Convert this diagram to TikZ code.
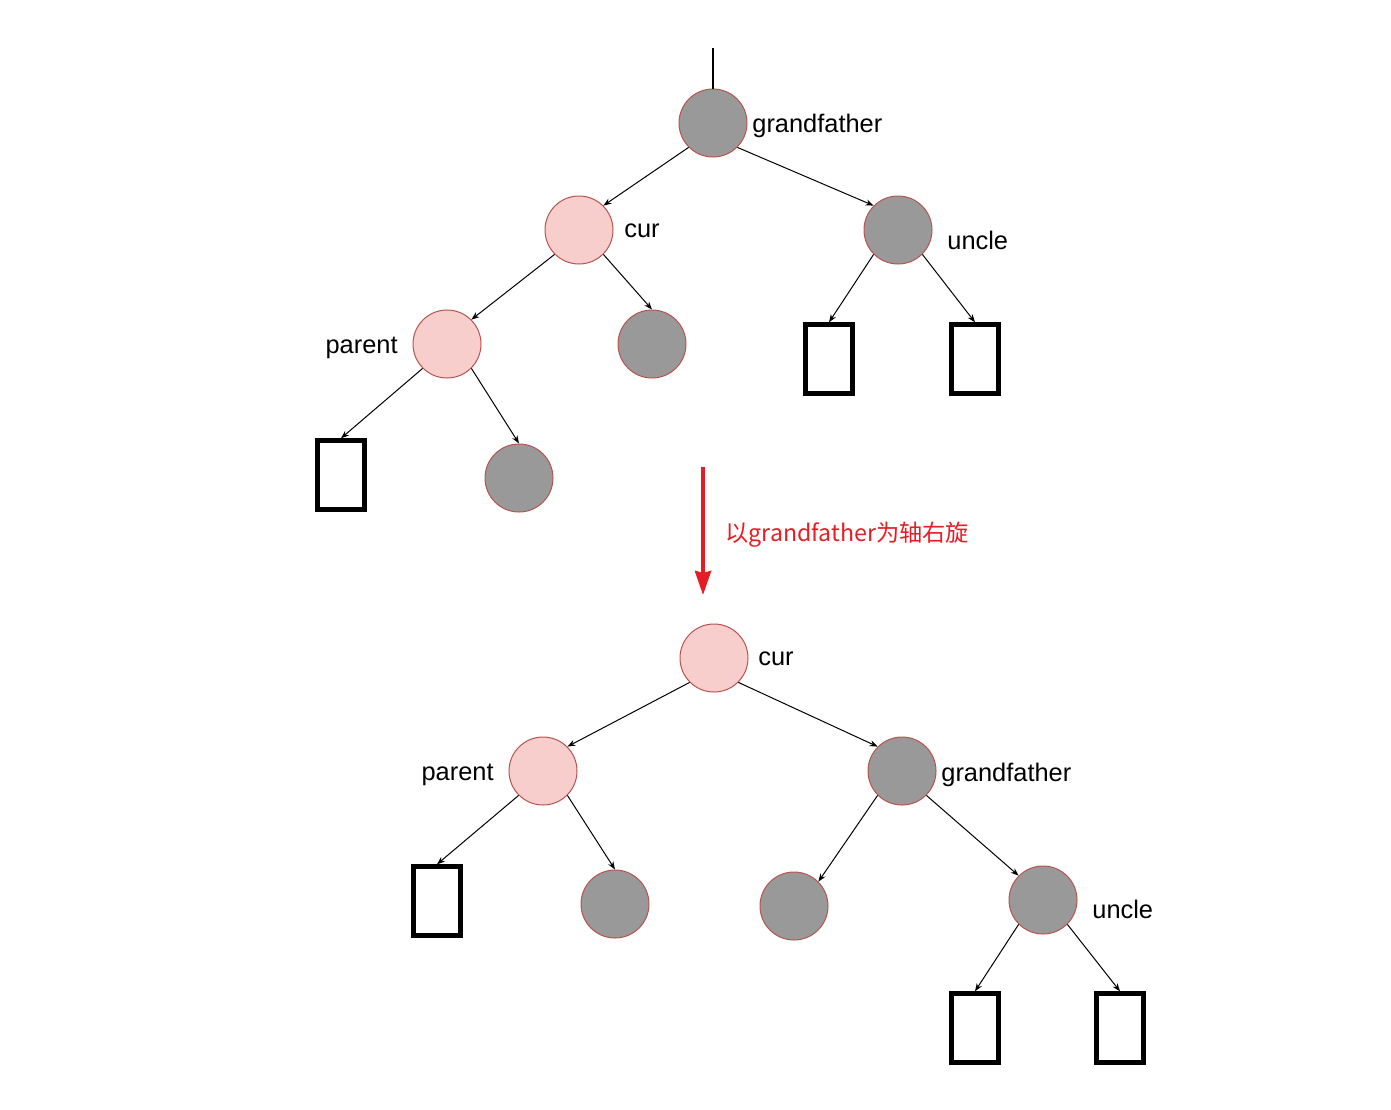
\documentclass[tikz,border=0pt]{standalone}
\usepackage{fontspec}
\setmainfont{Liberation Sans}
\newfontfamily\cjk{Noto Sans CJK SC}
\usetikzlibrary{arrows.meta}
\definecolor{redfill}{HTML}{F8CECC}
\definecolor{redline}{HTML}{B85450}
\definecolor{blkfill}{HTML}{999999}
\definecolor{rotred}{HTML}{E51E25}
\begin{document}
\begin{tikzpicture}[x=0.5pt,y=-0.5pt,>={Stealth[length=4pt,width=3pt]},
  font=\fontsize{12.7}{15}\selectfont,
  rnode/.style={circle,draw=redline,fill=redfill,line width=0.5pt,minimum size=34pt,inner sep=0pt},
  bnode/.style={circle,draw=redline,fill=blkfill,line width=0.5pt,minimum size=34pt,inner sep=0pt},
  nilbox/.style={rectangle,draw=black,line width=2.2pt,minimum width=23.5pt,minimum height=34.5pt,inner sep=0pt},
  tag/.style={inner sep=0pt,anchor=west,yshift=-1.5pt},
  link/.style={->,line width=0.5pt}]
  \useasboundingbox (0,0) rectangle (1391,1109);

  % before the rotation
  \coordinate (root) at (713,48);
  \node[bnode] (gf) at (713,123) {};
  \node[rnode] (cur) at (579,230) {};
  \node[bnode] (unc) at (898,230) {};
  \node[rnode] (par) at (447,344) {};
  \node[bnode] (curR) at (652,344) {};
  \node[nilbox] (parL) at (341,475) {};
  \node[bnode] (parR) at (519,478) {};
  \node[nilbox] (uncL) at (829,359) {};
  \node[nilbox] (uncR) at (975,359) {};
  \node[tag] (gfT) at (752,123) {grandfather};
  \node[tag] (curT) at (624,228) {cur};
  \node[tag] (uncT) at (947,237) {uncle};
  \node[tag,anchor=east] (parT) at (398,345) {parent};

  \draw[line width=0.8pt] (root) -- (gf);
  \draw[link] (gf.south west) -- (cur.north east);
  \draw[link] (gf.south east) -- (unc.north west);
  \draw[link] (cur.south west) -- (par.north east);
  \draw[link] (cur.south east) -- (curR.north);
  \draw[link] (par.south west) -- (parL.north);
  \draw[link] (par.south east) -- (parR.north);
  \draw[link] (unc.south west) -- (uncL.north);
  \draw[link] (unc.south east) -- (uncR.north);

  % rotation step
  \coordinate (rotA) at (703,467);
  \coordinate (rotB) at (703,595);
  \draw[-{Stealth[length=12pt,width=8pt,inset=1pt]},rotred,line width=2pt] (rotA) -- (rotB);
  \node[tag,text=rotred,font=\cjk\fontsize{11.6}{14}\selectfont] (rotT) at (725,532) {以grandfather为轴右旋};

  % after the rotation
  \node[rnode] (cur2) at (714,658) {};
  \node[rnode] (par2) at (543,771) {};
  \node[bnode] (gf2) at (902,771) {};
  \node[nilbox] (par2L) at (437,901) {};
  \node[bnode] (par2R) at (615,904) {};
  \node[bnode] (gf2L) at (794,906) {};
  \node[bnode] (unc2) at (1043,900) {};
  \node[nilbox] (unc2L) at (975,1028) {};
  \node[nilbox] (unc2R) at (1120,1028) {};
  \node[tag] (cur2T) at (758,656) {cur};
  \node[tag,anchor=east] (par2T) at (494,772) {parent};
  \node[tag] (gf2T) at (941,772) {grandfather};
  \node[tag] (unc2T) at (1092,906) {uncle};

  \draw[link] (cur2.south west) -- (par2.north east);
  \draw[link] (cur2.south east) -- (gf2.north west);
  \draw[link] (par2.south west) -- (par2L.north);
  \draw[link] (par2.south east) -- (par2R.north);
  \draw[link] (gf2.south west) -- (gf2L.north east);
  \draw[link] (gf2.south east) -- (unc2.north west);
  \draw[link] (unc2.south west) -- (unc2L.north);
  \draw[link] (unc2.south east) -- (unc2R.north);
\end{tikzpicture}
\end{document}
